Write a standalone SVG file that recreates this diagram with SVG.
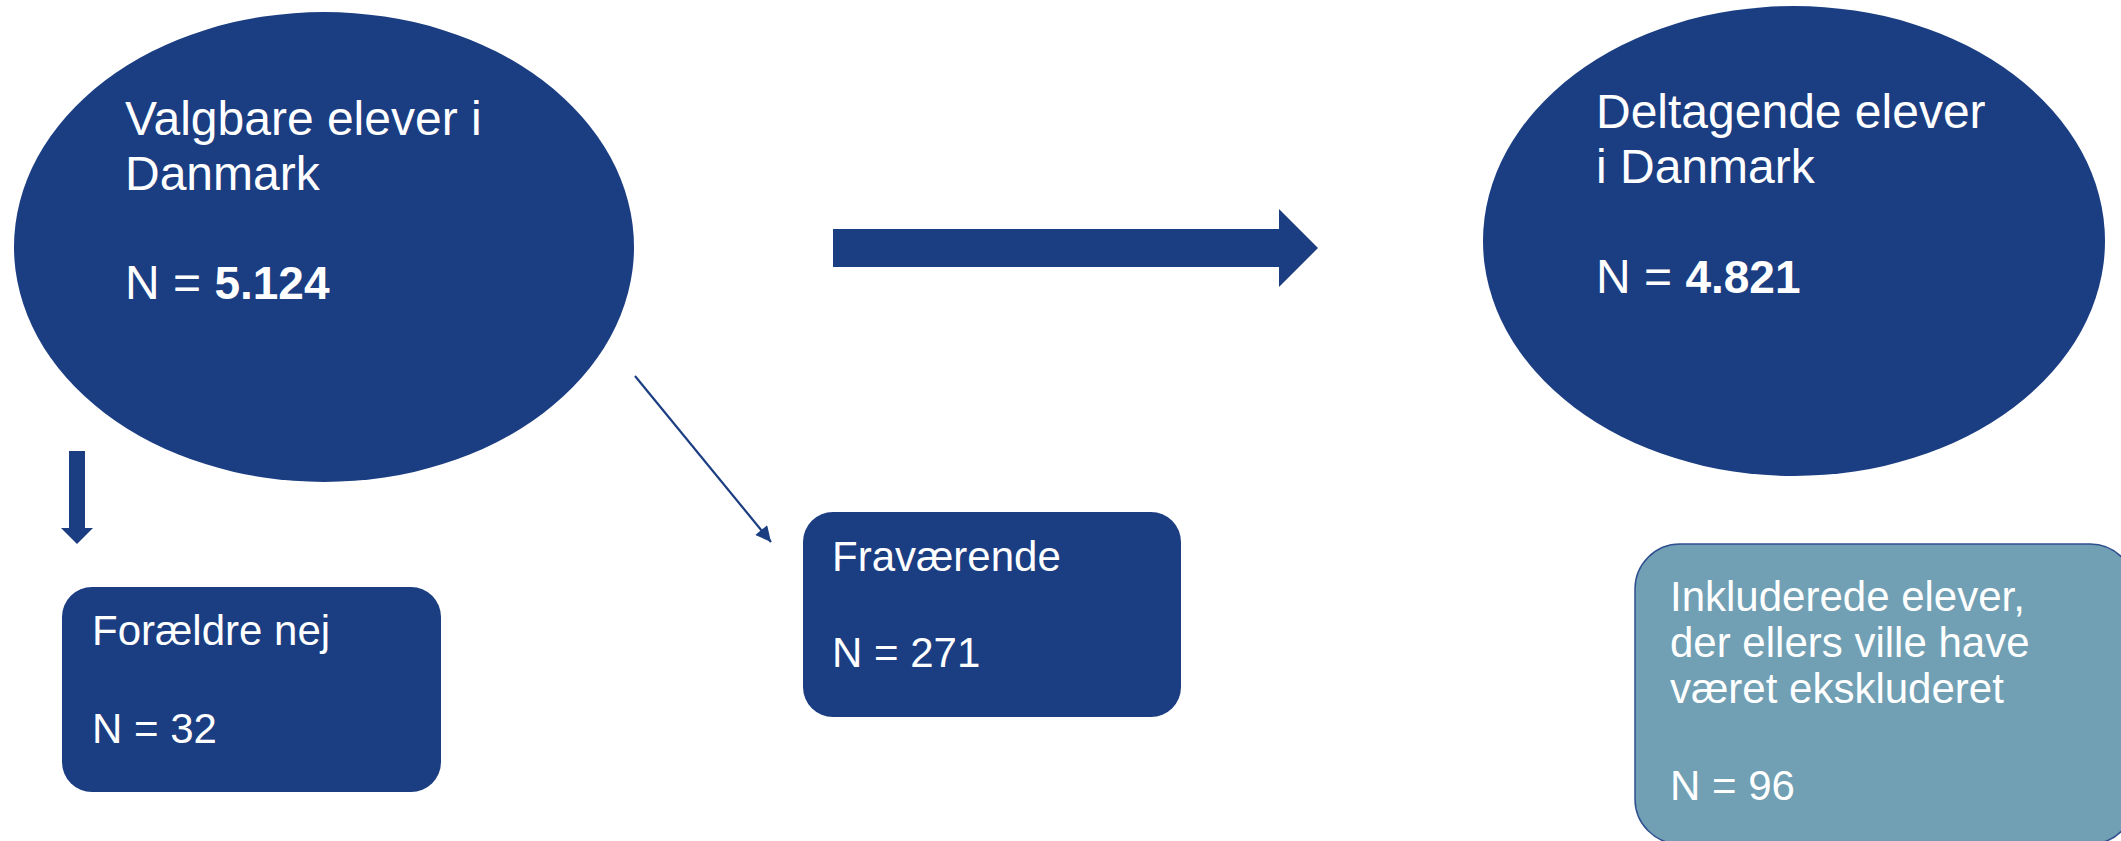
<svg xmlns="http://www.w3.org/2000/svg" width="2121" height="841" viewBox="0 0 2121 841">
<style>
.dark{fill:#1b3d82}
.t{font-family:"Liberation Sans",Arial,sans-serif;fill:#ffffff}
.big{font-size:48px}
.med{font-size:42px}
.b{font-weight:bold;font-size:46px}
</style>
<defs>
<marker id="ah" viewBox="0 0 10 10" refX="10" refY="5" markerWidth="9" markerHeight="7" markerUnits="strokeWidth" orient="auto">
<path d="M0,0 L10,5 L0,10 z" fill="#1b3d82"/>
</marker>
</defs>
<rect width="2121" height="841" fill="#ffffff"/>
<g id="connectors">
<path class="dark" d="M833,229 H1279 V209 L1318,248 L1279,287 V267 H833 Z"/>
<path class="dark" d="M69,451 H85 V528 H93 L77,544 L61,528 H69 Z"/>
<line x1="635" y1="376" x2="771" y2="542" stroke="#1b3d82" stroke-width="2.2" marker-end="url(#ah)"/>
</g>
<g id="valgbare">
<ellipse class="dark" cx="324" cy="247" rx="310" ry="235"/>
<text class="t big" x="125" y="135">Valgbare elever i</text>
<text class="t big" x="125" y="190">Danmark</text>
<text class="t big" x="125" y="299">N = <tspan class="b">5.124</tspan></text>
</g>
<g id="deltagende">
<ellipse class="dark" cx="1794" cy="241" rx="311" ry="235"/>
<text class="t big" x="1596" y="128">Deltagende elever</text>
<text class="t big" x="1596" y="183">i Danmark</text>
<text class="t big" x="1596" y="293">N = <tspan class="b">4.821</tspan></text>
</g>
<g id="foraeldre">
<rect class="dark" x="62" y="587" width="379" height="205" rx="30" ry="30"/>
<text class="t med" x="92" y="645">Forældre nej</text>
<text class="t med" x="92" y="743">N = 32</text>
</g>
<g id="fravaerende">
<rect class="dark" x="803" y="512" width="378" height="205" rx="30" ry="30"/>
<text class="t med" x="832" y="571">Fraværende</text>
<text class="t med" x="832" y="667">N = 271</text>
</g>
<g id="inkluderede">
<rect x="1635" y="544" width="500" height="300" rx="45" ry="45" fill="#71a0b5" stroke="#2f4f8f" stroke-width="1.5"/>
<text class="t med" x="1670" y="611">Inkluderede elever,</text>
<text class="t med" x="1670" y="657">der ellers ville have</text>
<text class="t med" x="1670" y="703">været ekskluderet</text>
<text class="t med" x="1670" y="800">N = 96</text>
</g>
</svg>
